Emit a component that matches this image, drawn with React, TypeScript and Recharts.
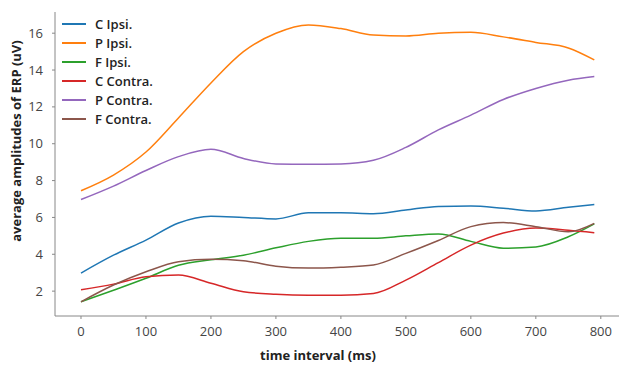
import { LineChart, Line, XAxis, YAxis, Label } from "recharts";

// time points (ms)
const times = [0, 50, 100, 150, 200, 250, 300, 350, 400, 450, 500, 550, 600, 650, 700, 750, 790];

const cIpsi = [2.98, 3.95, 4.77, 5.7, 6.07, 6.0, 5.92, 6.25, 6.25, 6.2, 6.4, 6.6, 6.62, 6.5, 6.35, 6.55, 6.7];
const pIpsi = [7.45, 8.3, 9.55, 11.4, 13.3, 15.0, 16.0, 16.45, 16.25, 15.9, 15.85, 16.0, 16.05, 15.8, 15.5, 15.2, 14.55];
const fIpsi = [1.42, 2.05, 2.7, 3.4, 3.7, 3.95, 4.35, 4.7, 4.87, 4.87, 5.0, 5.1, 4.7, 4.33, 4.4, 4.95, 5.65];
const cContra = [2.08, 2.38, 2.78, 2.87, 2.43, 1.97, 1.83, 1.78, 1.78, 1.87, 2.6, 3.55, 4.5, 5.15, 5.42, 5.3, 5.17];
const pContra = [6.97, 7.7, 8.55, 9.3, 9.7, 9.2, 8.9, 8.88, 8.9, 9.1, 9.8, 10.75, 11.55, 12.4, 13.0, 13.45, 13.65];
const fContra = [1.42, 2.33, 3.05, 3.6, 3.73, 3.65, 3.35, 3.25, 3.3, 3.42, 4.05, 4.75, 5.5, 5.72, 5.5, 5.22, 5.68];

const xTicks = [0, 100, 200, 300, 400, 500, 600, 700, 800];
const yTicks = [2, 4, 6, 8, 10, 12, 14, 16];

const series = [
  { key: "cIpsi", name: "C Ipsi.", color: "#1f77b4", values: cIpsi },
  { key: "pIpsi", name: "P Ipsi.", color: "#ff7f0e", values: pIpsi },
  { key: "fIpsi", name: "F Ipsi.", color: "#2ca02c", values: fIpsi },
  { key: "cContra", name: "C Contra.", color: "#d62728", values: cContra },
  { key: "pContra", name: "P Contra.", color: "#9467bd", values: pContra },
  { key: "fContra", name: "F Contra.", color: "#8c564b", values: fContra },
];

const data = times.map((t, i) => {
  const row: Record<string, number> = { t };
  for (const s of series) row[s.key] = s.values[i];
  return row;
});

const FONT = "'Open Sans', sans-serif";
const labelStyle = { fill: "#222", fontSize: 13, fontWeight: 700, fontFamily: FONT };

export default function App() {
  return (
    <div style={{ position: "absolute", left: 0, top: 0, width: 619, height: 367, background: "#fff" }}>
      <LineChart width={619} height={367} data={data} margin={{ top: 12, right: 0, bottom: 0, left: 0 }}>
        <XAxis
          dataKey="t"
          type="number"
          domain={[-40, 828]}
          ticks={xTicks}
          height={51}
          stroke="#888"
          tickSize={3}
          tick={{ fill: "#444", fontSize: 13, fontFamily: FONT }}
          tickMargin={8}
        >
          <Label
            content={() => (
              <text x={318} y={360} textAnchor="middle" style={labelStyle}>time interval (ms)</text>
            )}
          />
        </XAxis>
        <XAxis xAxisId="top" orientation="top" type="number" domain={[-40, 828]} tick={false} tickLine={false} height={0} stroke="#999" />
        <YAxis
          type="number"
          domain={[0.65, 17.15]}
          ticks={yTicks}
          width={55}
          stroke="#888"
          tickSize={3}
          tick={{ fill: "#444", fontSize: 13, fontFamily: FONT }}
          tickMargin={9}
        >
          <Label
            content={() => (
              <text transform="translate(21,141) rotate(-90)" textAnchor="middle" style={labelStyle}>
                average amplitudes of ERP (uV)
              </text>
            )}
          />
        </YAxis>
        {series.map((s) => (
          <Line
            key={s.key}
            dataKey={s.key}
            name={s.name}
            type="monotone"
            stroke={s.color}
            strokeWidth={1.5}
            dot={false}
            isAnimationActive={false}
          />
        ))}
      </LineChart>
      <div style={{ position: "absolute", left: 62, top: 14, fontFamily: FONT, fontSize: 13, fontWeight: 600, color: "#222" }}>
        {series.map((s) => (
          <div key={s.key} style={{ display: "flex", alignItems: "center", height: 19 }}>
            <div style={{ width: 24, height: 2, background: s.color, marginRight: 9 }} />
            <span>{s.name}</span>
          </div>
        ))}
      </div>
    </div>
  );
}
